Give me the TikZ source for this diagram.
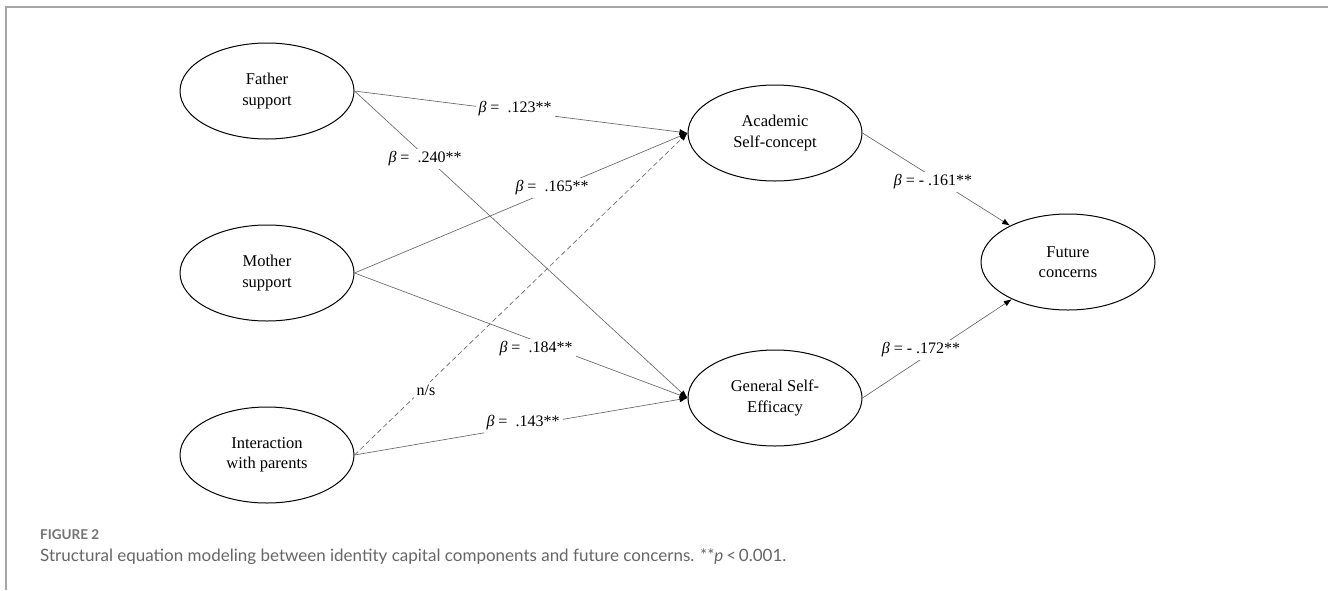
\documentclass[tikz,border=0pt]{standalone}
\usepackage{fontspec}
\setmainfont{Liberation Serif}
\newfontfamily\capfont{Lato}
\usepackage{xcolor}
\usetikzlibrary{positioning,calc,shapes.geometric,arrows.meta}

\begin{document}
\begin{tikzpicture}[
	x=1pt, y=-1pt,
	latent/.style={              % biến tiềm ẩn (ellipse)
		draw=black, ellipse,
		line width=1pt,
		minimum width=174pt,
		minimum height=96pt,
		inner sep=0pt,
		align=center,
		font=\fontsize{16.5}{20.5}\selectfont
	},
	path_line/.style={           % đường hồi quy
		draw=black!60, line width=0.65pt,
		-{Latex[length=8pt,width=6pt,color=black]}
	},
	ns_line/.style={             % đường không có ý nghĩa
		path_line, dash pattern=on 5pt off 3pt
	},
	coef/.style={                % hệ số beta
		fill=white, inner sep=3pt,
		font=\fontsize{16}{19}\selectfont
	}
	]
	\useasboundingbox (0,0) rectangle (1328,590);
	% --- khung ---
	\draw[black!35, line width=1.5pt] (6,590) -- (6,7) -- (1328,7);
	
	% --- CỘT 1: hỗ trợ của cha mẹ ---
	\node[latent] (father) at (267,91) {Father\\support};
	\node[latent] (mother) at (267,273) {Mother\\support};
	\node[latent] (interact) at (267,455) {Interaction\\with parents};
	
	% --- CỘT 2: trung gian ---
	\node[latent] (academic) at (775,133) {Academic\\Self-concept};
	\node[latent] (efficacy) at (775,398) {General Self-\\Efficacy};
	
	% --- CỘT 3 ---
	\node[latent] (future) at (1068,262) {Future\\concerns};
	
	% --- đường đi ---
	\draw[path_line] (father.east) -- (academic.west);
	\draw[path_line] (father.east) -- (efficacy.west);
	\draw[path_line] (mother.east) -- (academic.west);
	\draw[path_line] (mother.east) -- (efficacy.west);
	\draw[ns_line] (interact.east) -- (academic.west);
	\draw[path_line] (interact.east) -- (efficacy.west);
	\draw[path_line] (academic.east) -- (future);
	\draw[path_line] (efficacy.east) -- (future);
	
	% --- hệ số ---
	\node[coef] (b-fa) at (515,109) {{\itshape β} =\ \ .123**};
	\node[coef] (b-fe) at (425,159) {{\itshape β} =\ \ .240**};
	\node[coef] (b-ma) at (552,188) {{\itshape β} =\ \ .165**};
	\node[coef] (b-me) at (536,349) {{\itshape β} =\ \ .184**};
	\node[coef] (b-ia) at (426,390) {n/s};
	\node[coef] (b-ie) at (523,423) {{\itshape β} =\ \ .143**};
	\node[coef] (b-af) at (933,182) {{\itshape β} = - .161**};
	\node[coef] (b-ef) at (921,350) {{\itshape β} = - .172**};
	
	% --- chú thích ---
	\node[anchor=west, inner sep=0pt, text=black!55, font=\capfont\bfseries\fontsize{13.5}{16}\selectfont] (figno) at (40,535) {FIGURE 2};
	\node[anchor=west, inner sep=0pt, text=black!60, font=\capfont\fontsize{17}{20}\selectfont] (caption) at (40,557) {Structural equation modeling between identity capital components and future concerns. **{\itshape p}\,<\,0.001.};
	
\end{tikzpicture}
\end{document}
